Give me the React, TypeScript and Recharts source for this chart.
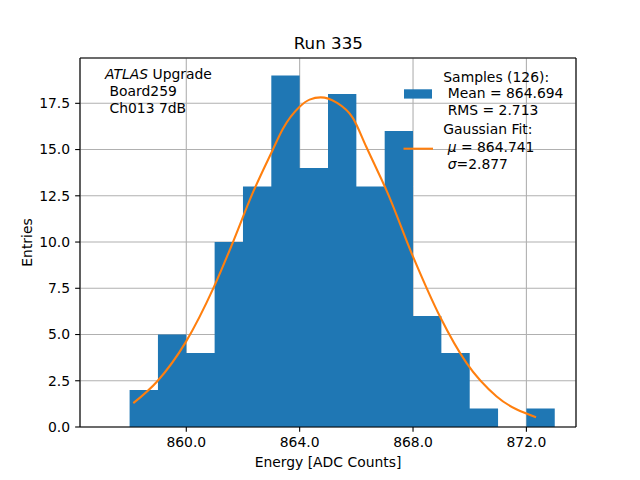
import React from "react";
import {
  ComposedChart,
  Area,
  Line,
  XAxis,
  YAxis,
  CartesianGrid,
  ReferenceLine,
} from "recharts";

// Histogram bins (left edges) and counts
const binEdges = [858, 859, 860, 861, 862, 863, 864, 865, 866, 867, 868, 869, 870, 871, 872, 873];
const binCounts = [2, 5, 4, 10, 13, 19, 14, 18, 13, 16, 6, 4, 1, 0, 1];

// Gaussian fit curve
const fitX = [858.13, 858.97, 859.98, 860.98, 861.63, 862.34, 863.04, 863.4, 863.99, 864.35, 864.74, 865.29, 865.88, 866.35, 866.7, 867.06, 868.0, 868.95, 869.89, 870.95, 872.34];
const fitY = [1.29, 2.46, 4.59, 7.59, 9.93, 12.64, 14.95, 16.1, 17.3, 17.7, 17.82, 17.55, 16.7, 15.15, 14.0, 12.81, 9.21, 5.97, 3.45, 1.65, 0.53];

const xTicks = [860, 864, 868, 872];
const yTicks = [0, 2.5, 5, 7.5, 10, 12.5, 15, 17.5];

const histData = binEdges.map((e, i) => ({
  x: e,
  n: i < binCounts.length ? binCounts[i] : binCounts[binCounts.length - 1],
}));
const fitData = fitX.map((x, i) => ({ x, y: fitY[i] }));

const FONT = "DejaVu Sans";
const FS = 13.9;
const BLUE = "#1f77b4";
const ORANGE = "#ff7f0e";

export default function App() {
  return (
    <div style={{ position: "absolute", left: 0, top: 0, width: 640, height: 480, background: "#fff" }}>
      <ComposedChart
        width={640}
        height={480}
        margin={{ top: 58, right: 64, bottom: 0, left: 0 }}
        style={{ fontFamily: FONT }}
      >
        <XAxis
          type="number"
          dataKey="x"
          domain={[856.25, 873.75]}
          ticks={xTicks}
          allowDataOverflow
          tickFormatter={(v: number) => v.toFixed(1)}
          height={53}
          tickSize={4.86}
          tickMargin={5}
          axisLine={{ stroke: "#000", strokeWidth: 1.1 }}
          tickLine={{ stroke: "#000", strokeWidth: 1.1 }}
          tick={{ fill: "#000", fontSize: FS, fontFamily: FONT }}
        />
        <YAxis
          type="number"
          domain={[0, 19.95]}
          ticks={yTicks}
          allowDataOverflow
          tickFormatter={(v: number) => v.toFixed(1)}
          width={80}
          tickSize={4.86}
          tickMargin={5}
          axisLine={{ stroke: "#000", strokeWidth: 1.1 }}
          tickLine={{ stroke: "#000", strokeWidth: 1.1 }}
          tick={{ fill: "#000", fontSize: FS, fontFamily: FONT }}
        />
        <Area
          data={histData}
          dataKey="n"
          type="stepAfter"
          fill={BLUE}
          fillOpacity={1}
          stroke="none"
          isAnimationActive={false}
          baseValue={0}
        />
        <CartesianGrid stroke="#b0b0b0" strokeWidth={1.1} />
        <Line
          data={fitData}
          dataKey="y"
          type="monotone"
          stroke={ORANGE}
          strokeWidth={2.08}
          dot={false}
          activeDot={false}
          isAnimationActive={false}
        />
        <ReferenceLine y={19.95} stroke="#000" strokeWidth={1.1} />
        <ReferenceLine x={873.75} stroke="#000" strokeWidth={1.1} />
      </ComposedChart>
      <svg
        width={640}
        height={480}
        style={{ position: "absolute", left: 0, top: 0, pointerEvents: "none" }}
        fontFamily={FONT}
        fontSize={FS}
      >
        <text x={328.3} y={49} textAnchor="middle" fontSize={16.7} fill="#000">Run 335</text>
        <text x={328} y={467} textAnchor="middle" fill="#000">Energy [ADC Counts]</text>
        <text x={31.5} y={242.5} textAnchor="middle" fill="#000" transform="rotate(-90 31.5 242.5)">Entries</text>

        <text x={105} y={79.3} fill="#000">
          <tspan fontStyle="italic">ATLAS</tspan> Upgrade
        </text>
        <text x={109.5} y={96} fill="#000">Board259</text>
        <text x={109.5} y={112.5} fill="#000">Ch013 7dB</text>

        <rect x={404} y={89.3} width={28} height={9.3} fill={BLUE} />
        <text x={443.3} y={81.5} fill="#000">Samples (126):</text>
        <text x={447.7} y={98} fill="#000">Mean = 864.694</text>
        <text x={447.7} y={114.5} fill="#000">RMS = 2.713</text>

        <line x1={403.5} x2={433} y1={148.7} y2={148.7} stroke={ORANGE} strokeWidth={2.08} />
        <text x={443.3} y={134} fill="#000">Gaussian Fit:</text>
        <text x={447.7} y={151.5} fill="#000">
          <tspan fontStyle="italic">μ</tspan> = 864.741
        </text>
        <text x={447.7} y={169.3} fill="#000">
          <tspan fontStyle="italic">σ</tspan>=2.877
        </text>
      </svg>
    </div>
  );
}
